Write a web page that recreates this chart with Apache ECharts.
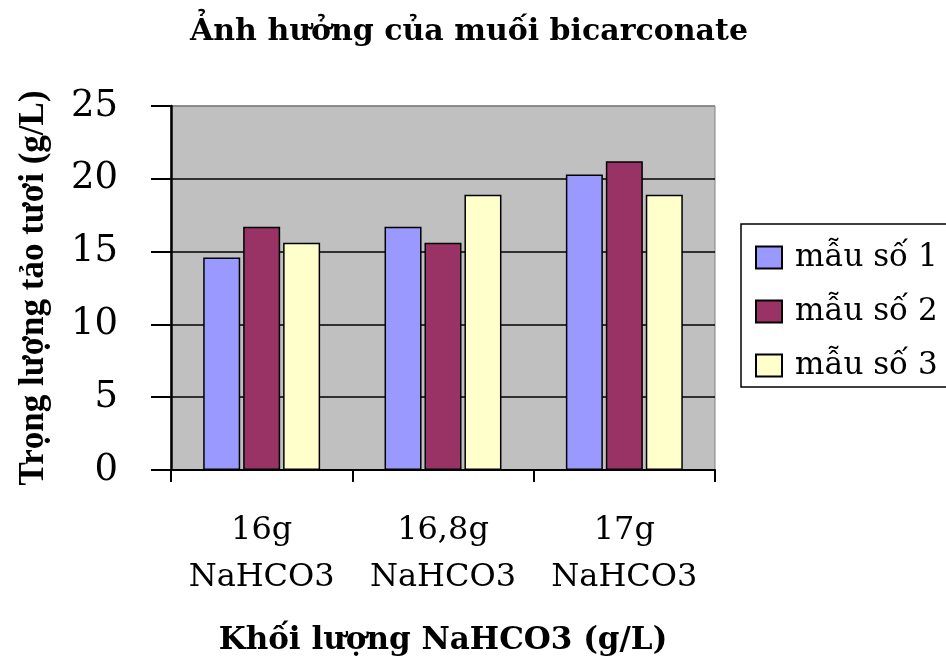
<!DOCTYPE html>
<html><head><meta charset="utf-8">
<script src="https://cdn.jsdelivr.net/npm/echarts@6/dist/echarts.min.js"></script>
<style>html,body{margin:0;padding:0;background:#fff}#c{width:946px;height:659px}</style>
</head><body><div id="c"></div>
<script>
const categories = ['16g\nNaHCO3', '16,8g\nNaHCO3', '17g\nNaHCO3'];
const seriesNames = ['mẫu số 1', 'mẫu số 2', 'mẫu số 3'];
const sample1 = [14.6, 16.7, 20.3];
const sample2 = [16.7, 15.6, 21.2];
const sample3 = [15.6, 18.9, 18.9];
const yTicks = [0, 5, 10, 15, 20, 25];
const colors = ['#9999FF', '#993366', '#FFFFCC'];
const titleText = 'Ảnh hưởng của muối bicarconate';
const xName = 'Khối lượng NaHCO3 (g/L)';
const yName = 'Trọng lượng tảo tươi (g/L)';

const chart = echarts.init(document.getElementById('c'));
const values = [sample1, sample2, sample3];
chart.setOption({
  animation: false,
  backgroundColor: '#fff',
  title: {
    text: titleText, left: 464, top: 12, textAlign: 'center',
    textStyle: {fontFamily: 'DejaVu Serif', fontWeight: 'bold', fontSize: 30, color: '#000'}
  },
  legend: {
    orient: 'vertical', left: 741, top: 224,
    padding: [18, 30, 6, 14],
    backgroundColor: '#fff', borderColor: '#000', borderWidth: 1.5, borderRadius: 0,
    itemWidth: 26, itemHeight: 22, itemGap: 23,
    icon: 'rect',
    textStyle: {fontFamily: 'DejaVu Serif', fontSize: 31, color: '#000', padding: [0,0,0,8]},
    data: seriesNames
  },
  grid: {left: 171, right: 231, top: 106, bottom: 189, show: true, outerBoundsMode: 'none',
    backgroundColor: '#C0C0C0', borderColor: '#808080', borderWidth: 1},
  xAxis: {
    type: 'category', data: categories,
    name: xName, nameLocation: 'middle', nameGap: 155,
    nameTextStyle: {fontFamily: 'DejaVu Serif', fontWeight: 'bold', fontSize: 31, color: '#000'},
    axisLine: {lineStyle: {color: '#000', width: 2}},
    axisTick: {show: true, length: 12, lineStyle: {color: '#000', width: 2}},
    axisLabel: {interval: 0, fontFamily: 'DejaVu Serif', fontSize: 32, color: '#000', lineHeight: 47, margin: 37}
  },
  yAxis: {
    type: 'value', min: yTicks[0], max: yTicks[yTicks.length-1], interval: 5,
    name: yName, nameLocation: 'middle', nameGap: 120, nameRotate: 90,
    nameTextStyle: {fontFamily: 'Liberation Serif', fontWeight: 'bold', fontSize: 35, color: '#000'},
    axisLine: {show: true, lineStyle: {color: '#000', width: 2.5}},
    axisTick: {show: true, length: 20, lineStyle: {color: '#000', width: 2}},
    axisLabel: {fontFamily: 'DejaVu Serif', fontSize: 37, color: '#000', margin: 53},
    splitLine: {show: true, lineStyle: {color: ['#000','#000','#000','#000','#000','#808080'], width: 1.5}}
  },
  series: seriesNames.map((n, i) => ({
    name: n, type: 'bar', data: values[i],
    barWidth: 37, barGap: '8%',
    itemStyle: {color: colors[i], borderColor: '#000', borderWidth: 1.5}
  }))
});
</script></body></html>
